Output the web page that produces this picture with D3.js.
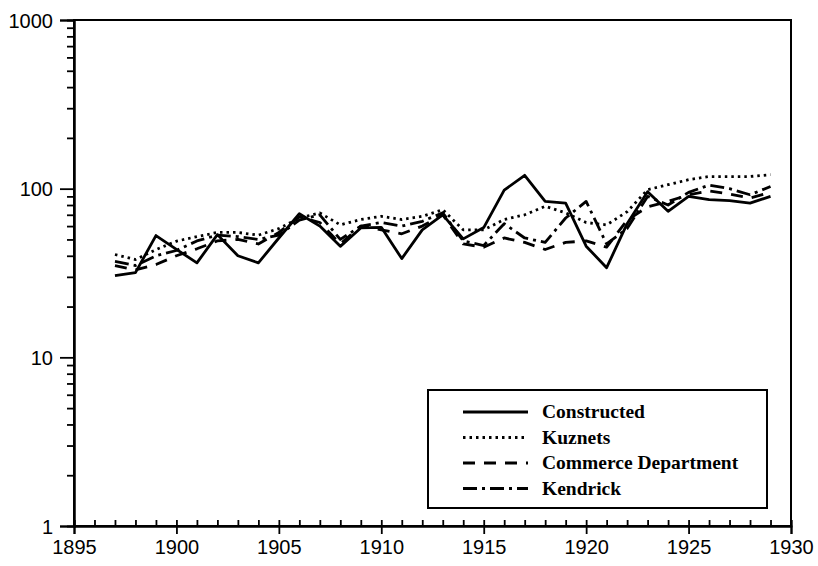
<!DOCTYPE html>
<html>
<head>
<meta charset="utf-8">
<script src="https://cdn.jsdelivr.net/npm/d3@7"></script>
<style>
  body { margin: 0; background: #fff; }
  svg { display: block; }
</style>
</head>
<body>
<svg id="chart"></svg>
<script>
// years and series
const years = d3.range(1897, 1930);
const constructed = [30.5, 31.8, 52.7, 43.7, 36.3, 53.4, 40, 36.3, 51, 71, 60, 45.5, 58.5, 59, 38.5, 57, 70, 50.4, 58.8, 98, 120, 84, 82, 45.6, 34, 62, 96, 73.4, 90, 86, 85, 82, 90];
const kuznets = [40.7, 38, 43.5, 48.8, 52, 55, 55, 53, 58, 67, 71.8, 61, 65.6, 68.6, 65.6, 68.6, 75, 57, 57, 65.6, 70, 78.6, 71.8, 63, 61, 73, 98.6, 105.6, 113, 118, 118, 118, 121];
const commerce = [35, 33, 35.5, 40, 44, 49, 50, 47, 55, 68, 63, 47, 60, 57, 54, 60, 70, 47, 45, 51, 48, 43.6, 48, 49, 45, 65, 78, 84, 92, 97, 93, 88, 95];
const kendrick = [37, 35, 40, 43, 49, 53, 52, 50, 53, 65, 70, 50, 60, 63, 60, 64, 72, 49, 46, 62, 51, 48, 67, 84, 47, 58, 90, 80, 95, 105, 100, 92, 103];

const seriesNames = ["Constructed", "Kuznets", "Commerce Department", "Kendrick"];
const seriesValues = [constructed, kuznets, commerce, kendrick];
const seriesDash = ["none", "2.5,4", "12,9", "14,5,3,5"];

const xTicks = d3.range(1895, 1931, 5);
const yTicks = [1, 10, 100, 1000];

class LogChart {
  constructor(_config, _data) {
    this.config = {
      parentElement: _config.parentElement,
      containerWidth: _config.containerWidth || 818,
      containerHeight: _config.containerHeight || 566,
      margin: { top: 20, bottom: 40, right: 27, left: 74 }
    }
    this.data = _data;
    this.initVis();
  }

  initVis() {
    let vis = this;
    vis.width = vis.config.containerWidth - vis.config.margin.left - vis.config.margin.right;
    vis.height = vis.config.containerHeight - vis.config.margin.top - vis.config.margin.bottom;

    vis.svg = d3.select(vis.config.parentElement)
        .attr('width', vis.config.containerWidth)
        .attr('height', vis.config.containerHeight);

    vis.chart = vis.svg.append('g')
        .attr('transform', `translate(${vis.config.margin.left},${vis.config.margin.top})`);

    vis.xScale = d3.scaleLinear()
        .domain([1895, 1930])
        .range([0, vis.width]);

    vis.yScale = d3.scaleLog()
        .domain([1, 1000])
        .range([vis.height, 0]);

    vis.updateVis();
  }

  updateVis() {
    let vis = this;

    // minor ticks: every year on x (inside), 2..9 on y
    const yMinor = [];
    [1, 10, 100].forEach(d => d3.range(2, 10).forEach(k => yMinor.push(d * k)));

    const xMinorG = vis.chart.append('g')
        .attr('transform', `translate(0,${vis.height})`)
        .call(d3.axisBottom(vis.xScale).tickValues(d3.range(1895, 1931)).tickSize(-6).tickFormat(''));

    const xMajorG = vis.chart.append('g')
        .attr('transform', `translate(0,${vis.height})`)
        .call(d3.axisBottom(vis.xScale).tickValues(xTicks).tickSize(8).tickPadding(5).tickFormat(d3.format('d')));

    const yMinorG = vis.chart.append('g')
        .call(d3.axisLeft(vis.yScale).tickValues(yMinor).tickSize(7).tickFormat(''));

    const yMajorG = vis.chart.append('g')
        .call(d3.axisLeft(vis.yScale).tickValues(yTicks).tickSize(14).tickPadding(7).tickFormat(d3.format('d')));

    vis.chart.selectAll('.domain').attr('stroke', '#000').attr('stroke-width', 2);
    vis.chart.selectAll('.tick line').attr('stroke', '#000').attr('stroke-width', 1.8);
    [xMajorG, yMajorG].forEach(g => g.selectAll('text')
        .attr('fill', '#000')
        .style('font-family', '"Liberation Sans", Arial, sans-serif')
        .style('font-size', '20px'));
    xMajorG.selectAll('text').attr('dy', '0.75em');
    yMajorG.selectAll('text').attr('dy', '0.36em');

    // frame top and right
    vis.chart.append('rect')
        .attr('x', 0).attr('y', 0)
        .attr('width', vis.width).attr('height', vis.height)
        .attr('fill', 'none')
        .attr('stroke', '#000')
        .attr('stroke-width', 2);

    const line = d3.line()
        .x(d => vis.xScale(d.year))
        .y(d => vis.yScale(d.value));

    vis.chart.selectAll('.series')
      .data(vis.data)
      .join('path')
      .attr('class', 'series')
      .attr('fill', 'none')
      .attr('stroke', '#000')
      .attr('stroke-width', 2.8)
      .attr('stroke-linejoin', 'round')
      .attr('stroke-dasharray', d => d.dash)
      .attr('d', d => line(d.values));

    vis.renderLegend();
  }

  renderLegend() {
    let vis = this;
    const lx = 428, ly = 390, lw = 339, lh = 118;
    const leg = vis.svg.append('g').attr('class', 'legend');

    leg.append('rect')
        .attr('x', lx).attr('y', ly)
        .attr('width', lw).attr('height', lh)
        .attr('fill', '#fff')
        .attr('stroke', '#000')
        .attr('stroke-width', 2);

    const rows = leg.selectAll('.row')
      .data(vis.data)
      .join('g')
      .attr('class', 'row')
      .attr('transform', (d, i) => `translate(0,${ly + 22 + i * 25.5})`);

    rows.append('line')
        .attr('x1', 463).attr('x2', 528)
        .attr('y1', 0).attr('y2', 0)
        .attr('stroke', '#000')
        .attr('stroke-width', 2.8)
        .attr('stroke-dasharray', d => d.dash);

    rows.append('text')
        .attr('x', 542)
        .attr('dy', '0.33em')
        .text(d => d.name)
        .style('font-family', '"Liberation Serif", "Times New Roman", serif')
        .style('font-weight', 'bold')
        .style('font-size', '19.5px')
        .attr('fill', '#000');
  }
}

const data = seriesNames.map((name, i) => ({
  name: name,
  dash: seriesDash[i],
  values: years.map((y, j) => ({ year: y, value: seriesValues[i][j] }))
}));

new LogChart({ parentElement: '#chart' }, data);
</script>
</body>
</html>
